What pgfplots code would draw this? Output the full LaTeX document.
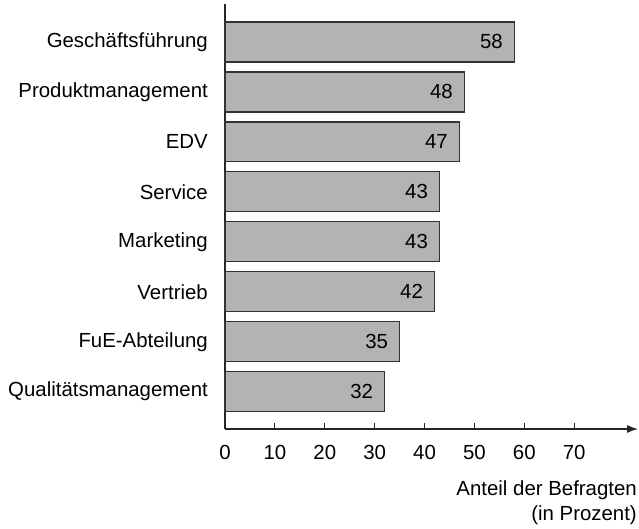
\documentclass[border=0pt]{standalone}
\usepackage{pgfplots}
\pgfplotsset{compat=1.18}
\usepackage{fontspec}
\setmainfont{Liberation Sans}
\usetikzlibrary{arrows.meta}
\definecolor{barfill}{RGB}{179,179,179}
\definecolor{baredge}{RGB}{50,50,50}
\begin{document}
\begin{tikzpicture}
\begin{axis}[
  scale only axis,
  width=413pt, height=425pt,
  xmin=0, xmax=82.8,
  ymin=-0.746, ymax=7.76,
  axis x line=bottom,
  axis y line=left,
  x axis line style={-{Latex[length=11pt,width=8pt]}, line width=1.2pt, draw=black!85},
  y axis line style={-, line width=1.2pt, draw=black!85},
  xtick={0,10,...,70},
  tick align=inside,
  major tick length=6pt,
  major x tick style={line width=1.2pt, black!85},
  major y tick style={draw=none},
  ytick={0,...,7},
  yticklabels={Qualitätsmanagement,FuE-Abteilung,Vertrieb,Marketing,Service,EDV,Produktmanagement,Geschäftsführung},
  /pgf/number format/assume math mode=true,
  ticklabel style={font=\fontsize{20.4}{24}\selectfont, inner sep=0pt},
  xticklabel style={anchor=north, yshift=-16pt},
  yticklabel style={anchor=east, xshift=-11pt},
  xbar,
  bar width=0.8,
  nodes near coords,
  nodes near coords align={anchor=east},
  every node near coord/.append style={font=\fontsize{20.4}{24}\selectfont, inner sep=0pt, anchor=east, xshift=-11pt, text=black},
  clip=false,
]
\addplot[fill=barfill, draw=baredge, line width=1.2pt] coordinates {
  (32,0) (35,1) (42,2) (43,3) (43,4) (47,5) (48,6) (58,7)
};
\coordinate (O) at (axis cs:0,-0.746);
\node[anchor=north east, align=right, inner sep=0pt, font=\fontsize{20.4}{25}\selectfont] at ([xshift=-1pt,yshift=-52pt]rel axis cs:1,0) {Anteil der Befragten\\(in Prozent)};
\end{axis}
\pgfresetboundingbox
\path ([shift={(-225pt,-100pt)}]O) rectangle ([shift={(414pt,429pt)}]O);
\end{tikzpicture}
\end{document}
